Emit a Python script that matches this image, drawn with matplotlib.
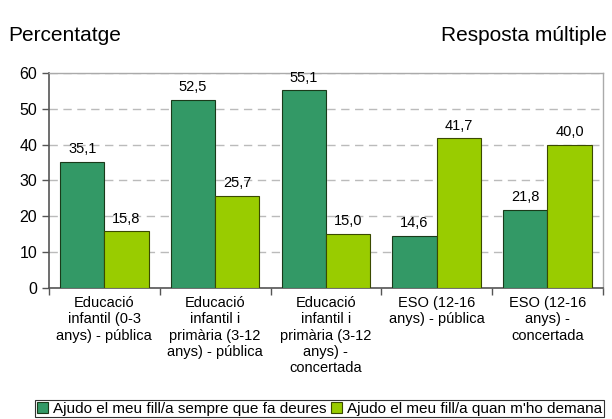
import numpy as np
import matplotlib.pyplot as plt
from matplotlib.patches import Patch

categories = ['Educació\ninfantil (0-3\nanys) - pública',
              'Educació\ninfantil i\nprimària (3-12\nanys) - pública',
              'Educació\ninfantil i\nprimària (3-12\nanys) -\nconcertada',
              'ESO (12-16\nanys) - pública',
              'ESO (12-16\nanys) -\nconcertada']
sempre = [35.1, 52.5, 55.1, 14.6, 21.8]
demana = [15.8, 25.7, 15.0, 41.7, 40.0]
series_names = ['Ajudo el meu fill/a sempre que fa deures',
                'Ajudo el meu fill/a quan m\'ho demana']
yticks = [0, 10, 20, 30, 40, 50, 60]

plt.rcParams['font.family'] = ['Liberation Sans', 'DejaVu Sans']

c1 = '#339966'
c2 = '#99cc00'

fig = plt.figure(figsize=(6.12, 4.19), dpi=100)
ax = fig.add_axes([0.080, 0.313, 0.905, 0.513])

x = np.arange(len(categories))
w = 0.4
b1 = ax.bar(x - w / 2, sempre, w, color=c1, edgecolor='#1a3a1a', linewidth=0.8, zorder=3)
b2 = ax.bar(x + w / 2, demana, w, color=c2, edgecolor='#3a4a00', linewidth=0.8, zorder=3)

for bars, vals in ((b1, sempre), (b2, demana)):
    for r, v in zip(bars, vals):
        ax.text(r.get_x() + r.get_width() / 2, v + 1.6, f'{v:.1f}'.replace('.', ','),
                ha='center', va='bottom', fontsize=10.5, zorder=4)

ax.set_xlim(-0.5, len(categories) - 0.5)
ax.set_ylim(0, 60)
ax.set_yticks(yticks)
ax.tick_params(axis='y', labelsize=11.5, length=5, color='#555555', width=1)
ax.yaxis.grid(True, color='#bbbbbb', linestyle=(0, (6, 4)), linewidth=1, zorder=0)

ax.set_xticks(np.arange(len(categories) + 1) - 0.5, minor=False)
ax.set_xticklabels([])
ax.tick_params(axis='x', length=5, color='#555555', width=1, direction='out')
ax.set_xticks(x, minor=True)
ax.set_xticklabels(categories, minor=True, fontsize=10.5, linespacing=1.2)
ax.tick_params(axis='x', which='minor', length=0, pad=6)

for s in ('left', 'bottom'):
    ax.spines[s].set_color('#555555')
    ax.spines[s].set_linewidth(1.2)
for s in ('top', 'right'):
    ax.spines[s].set_color('#aaaaaa')
    ax.spines[s].set_linewidth(1)

fig.text(0.014, 0.915, 'Percentatge', fontsize=15, ha='left', va='center')
fig.text(0.992, 0.915, 'Resposta múltiple', fontsize=15, ha='right', va='center')

handles = [Patch(facecolor=c1, edgecolor='#1a3a1a', linewidth=0.8),
           Patch(facecolor=c2, edgecolor='#3a4a00', linewidth=0.8)]
leg = fig.legend(handles, series_names, loc='lower center', bbox_to_anchor=(0.522, 0.0),
                 ncol=2, fontsize=11, frameon=True, fancybox=False, handlelength=0.75,
                 handleheight=0.75, handletextpad=0.3, columnspacing=0.3,
                 borderpad=0.1, borderaxespad=0.1)
leg.get_frame().set_edgecolor('black')
leg.get_frame().set_linewidth(0.8)

fig.savefig('out.png', dpi=100)
